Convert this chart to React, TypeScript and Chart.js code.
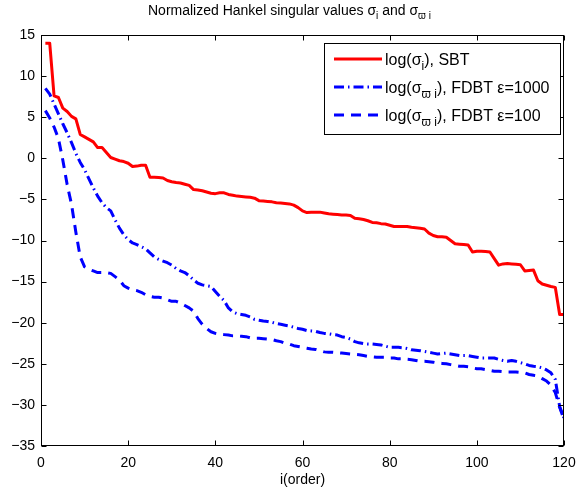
import React, { useEffect, useRef } from 'react';
import { Chart, registerables } from 'chart.js';

Chart.register(...registerables);

const FONT = '"Liberation Sans", Arial, Helvetica, sans-serif';

// order index i = 1..120
const order: number[] = Array.from({ length: 120 }, (_, k) => k + 1);

// log(sigma_i), SBT
const sbt: number[] = [
  14.0, 14.0, 7.6, 7.4, 6.1, 5.7, 5.1, 4.8, 2.9, 2.6,
  2.3, 2.0, 1.3, 1.3, 0.7, 0.1, -0.1, -0.3, -0.4, -0.6,
  -1.0, -0.95, -0.85, -0.85, -2.3, -2.3, -2.35, -2.4, -2.7, -2.85,
  -2.95, -3.0, -3.15, -3.3, -3.8, -3.85, -3.95, -4.1, -4.25, -4.3,
  -4.2, -4.2, -4.4, -4.5, -4.6, -4.65, -4.7, -4.75, -4.85, -5.15,
  -5.2, -5.25, -5.3, -5.4, -5.45, -5.5, -5.55, -5.7, -6.0, -6.4,
  -6.6, -6.55, -6.55, -6.55, -6.65, -6.75, -6.8, -6.85, -6.9, -6.9,
  -6.95, -7.3, -7.35, -7.45, -7.6, -7.8, -7.85, -7.95, -8.0, -8.15,
  -8.3, -8.3, -8.3, -8.3, -8.4, -8.45, -8.5, -8.6, -9.1, -9.4,
  -9.55, -9.55, -9.6, -10.0, -10.4, -10.45, -10.5, -10.55, -11.4, -11.3,
  -11.3, -11.35, -11.4, -12.2, -13.0, -12.85, -12.8, -12.85, -12.9, -12.95,
  -13.7, -13.65, -13.6, -14.9, -15.3, -15.45, -15.6, -15.7, -19.0, -19.0,
];

// log(sigma_varpi i), FDBT eps=1000
const fdbt1000: number[] = [
  8.5, 7.8, 6.6, 5.4, 4.2, 3.1, 1.9, 0.6, -0.5, -1.4,
  -2.5, -3.6, -4.6, -5.4, -6.0, -6.4, -7.5, -8.5, -9.3, -9.9,
  -10.3, -10.5, -10.75, -11.0, -11.5, -12.0, -12.3, -12.5, -12.7, -13.0,
  -13.4, -13.7, -13.9, -14.3, -14.8, -15.2, -15.4, -15.5, -15.6, -16.2,
  -16.8, -17.3, -18.2, -18.7, -18.9, -19.0, -19.1, -19.3, -19.6, -19.7,
  -19.8, -19.85, -19.95, -20.1, -20.2, -20.3, -20.4, -20.55, -20.7, -20.8,
  -20.95, -21.0, -21.05, -21.2, -21.3, -21.35, -21.45, -21.5, -21.7, -21.8,
  -22.0, -22.3, -22.45, -22.55, -22.6, -22.6, -22.65, -22.7, -22.85, -23.0,
  -23.0, -23.0, -23.05, -23.15, -23.3, -23.35, -23.4, -23.5, -23.6, -23.7,
  -23.8, -23.75, -23.7, -23.8, -23.9, -24.0, -24.0, -24.0, -24.1, -24.2,
  -24.3, -24.3, -24.3, -24.3, -24.45, -24.6, -24.7, -24.6, -24.7, -24.85,
  -25.0, -25.2, -25.3, -25.35, -25.5, -25.75, -26.1, -26.9, -30.2, -31.6,
];

// log(sigma_varpi i), FDBT eps=100
const fdbt100: number[] = [
  5.8, 4.9, 3.8, 2.4, -0.2, -3.2, -5.6, -9.0, -12.0, -13.2,
  -13.5, -13.7, -13.9, -13.9, -13.9, -14.0, -14.4, -14.8, -15.5, -15.8,
  -16.0, -16.1, -16.3, -16.6, -16.8, -16.9, -16.9, -17.0, -17.2, -17.4,
  -17.4, -17.6, -17.9, -18.2, -18.6, -19.5, -20.2, -20.7, -21.1, -21.3,
  -21.4, -21.45, -21.5, -21.6, -21.6, -21.65, -21.7, -21.85, -21.9, -21.9,
  -21.95, -22.0, -22.05, -22.2, -22.3, -22.5, -22.6, -22.8, -22.9, -23.0,
  -23.1, -23.2, -23.25, -23.4, -23.55, -23.6, -23.6, -23.65, -23.7, -23.75,
  -23.8, -23.85, -23.9, -24.0, -24.1, -24.15, -24.2, -24.2, -24.2, -24.3,
  -24.3, -24.4, -24.4, -24.45, -24.5, -24.6, -24.7, -24.7, -24.75, -24.8,
  -24.9, -24.95, -25.0, -25.1, -25.2, -25.3, -25.3, -25.35, -25.5, -25.6,
  -25.6, -25.7, -25.8, -25.9, -25.9, -25.95, -26.0, -26.0, -26.0, -26.05,
  -26.1, -26.3, -26.4, -26.5, -26.8, -27.1, -27.6, -28.5, -30.3, -31.8,
];

const xTickValues = [0, 20, 40, 60, 80, 100, 120];
const yTickValues = [-35, -30, -25, -20, -15, -10, -5, 0, 5, 10, 15];

type Part = { t: string; sub?: boolean };

const titleParts: Part[] = [
  { t: 'Normalized Hankel singular values \u03c3' },
  { t: 'i', sub: true },
  { t: ' and \u03c3' },
  { t: '\u03d6 i', sub: true },
];

const legendLabels: Part[][] = [
  [{ t: 'log(\u03c3' }, { t: 'i', sub: true }, { t: '), SBT' }],
  [{ t: 'log(\u03c3' }, { t: '\u03d6 i', sub: true }, { t: '), FDBT \u03b5=1000' }],
  [{ t: 'log(\u03c3' }, { t: '\u03d6 i', sub: true }, { t: '), FDBT \u03b5=100' }],
];

const seriesColors = ['#ff0000', '#0000ff', '#0000ff'];
const seriesDashes: number[][] = [[], [10, 4, 1.5, 4], [10, 7]];

function drawRich(ctx: CanvasRenderingContext2D, parts: Part[], x: number, y: number, size: number) {
  let cx = x;
  ctx.textAlign = 'left';
  ctx.textBaseline = 'alphabetic';
  for (const p of parts) {
    const s = p.sub ? Math.round(size * 0.72) : size;
    ctx.font = `${s}px ${FONT}`;
    ctx.fillText(p.t, cx, p.sub ? y + size * 0.32 : y);
    cx += ctx.measureText(p.t).width;
  }
}

const decor = {
  id: 'decor',
  afterDraw(chart: any) {
    const { ctx, chartArea: a, scales } = chart;
    const xs = scales.x;
    const ys = scales.y;
    const L = Math.round(a.left) + 0.5;
    const R = Math.round(a.right) - 0.5;
    const T = Math.round(a.top) + 0.5;
    const B = Math.round(a.bottom) - 0.5;
    ctx.save();
    ctx.strokeStyle = '#000';
    ctx.lineWidth = 1;
    ctx.setLineDash([]);
    ctx.strokeRect(L, T, R - L, B - T);
    const tl = 5;
    ctx.beginPath();
    for (const v of xTickValues) {
      const px = Math.round(xs.getPixelForValue(v)) + 0.5;
      ctx.moveTo(px, B); ctx.lineTo(px, B - tl);
      ctx.moveTo(px, T); ctx.lineTo(px, T + tl);
    }
    for (const v of yTickValues) {
      const py = Math.round(ys.getPixelForValue(v)) + 0.5;
      ctx.moveTo(L, py); ctx.lineTo(L + tl, py);
      ctx.moveTo(R, py); ctx.lineTo(R - tl, py);
    }
    ctx.stroke();

    // title
    ctx.fillStyle = '#000';
    drawRich(ctx, titleParts, 148, 15, 14);

    // legend
    const lx = 324.5, ly = 43.5, lw = 236, lh = 91;
    ctx.fillStyle = '#fff';
    ctx.fillRect(lx, ly, lw, lh);
    ctx.strokeStyle = '#000';
    ctx.lineWidth = 1;
    ctx.strokeRect(lx, ly, lw, lh);
    const rows = [59, 87, 115];
    for (let k = 0; k < 3; k++) {
      ctx.strokeStyle = seriesColors[k];
      ctx.lineWidth = 3;
      ctx.setLineDash(seriesDashes[k]);
      ctx.beginPath();
      ctx.moveTo(334, rows[k]);
      ctx.lineTo(382, rows[k]);
      ctx.stroke();
      ctx.setLineDash([]);
      ctx.fillStyle = '#000';
      drawRich(ctx, legendLabels[k], 385, rows[k] + 5.5, 16);
    }
    ctx.restore();
  },
};

export default function App() {
  const ref = useRef<HTMLCanvasElement | null>(null);
  useEffect(() => {
    document.body.style.margin = '0';
    const canvas = ref.current!;
    const mk = (vals: number[]) => order.map((x, k) => ({ x, y: vals[k] }));
    const chart = new Chart(canvas, {
      type: 'line',
      data: {
        datasets: [sbt, fdbt1000, fdbt100].map((vals, k) => ({
          data: mk(vals),
          borderColor: seriesColors[k],
          borderWidth: 3,
          borderDash: seriesDashes[k],
          pointRadius: 0,
          tension: 0,
          fill: false,
          borderJoinStyle: 'round' as const,
        })),
      },
      options: {
        responsive: false,
        animation: false,
        layout: { padding: { top: 35, right: 12, left: 0, bottom: 0 } },
        plugins: { legend: { display: false }, title: { display: false }, tooltip: { enabled: false } },
        scales: {
          x: {
            type: 'linear',
            min: 0,
            max: 120,
            afterBuildTicks: (s: any) => { s.ticks = xTickValues.map((v) => ({ value: v })); },
            afterFit: (s: any) => { s.height = 47; s.paddingLeft = 0; s.paddingRight = 0; },
            grid: { display: false, tickLength: 0 },
            border: { display: false },
            ticks: { color: '#000', font: { family: FONT, size: 14 }, padding: 9, maxRotation: 0 },
            title: { display: true, text: 'i(order)', color: '#000', font: { family: FONT, size: 14 }, padding: { top: 0, bottom: 4 } },
          },
          y: {
            type: 'linear',
            min: -35,
            max: 15,
            afterBuildTicks: (s: any) => { s.ticks = yTickValues.map((v) => ({ value: v })); },
            afterFit: (s: any) => { s.width = 41; s.paddingTop = 0; s.paddingBottom = 0; },
            grid: { display: false, tickLength: 0 },
            border: { display: false },
            ticks: {
              color: '#000',
              font: { family: FONT, size: 14 },
              padding: 6,
              callback: (v: any) => (v < 0 ? '\u2212' + String(-v) : String(v)),
            },
          },
        },
      },
      plugins: [decor],
    });
    return () => chart.destroy();
  }, []);
  return <canvas ref={ref} width={576} height={493} style={{ display: 'block' }} />;
}
